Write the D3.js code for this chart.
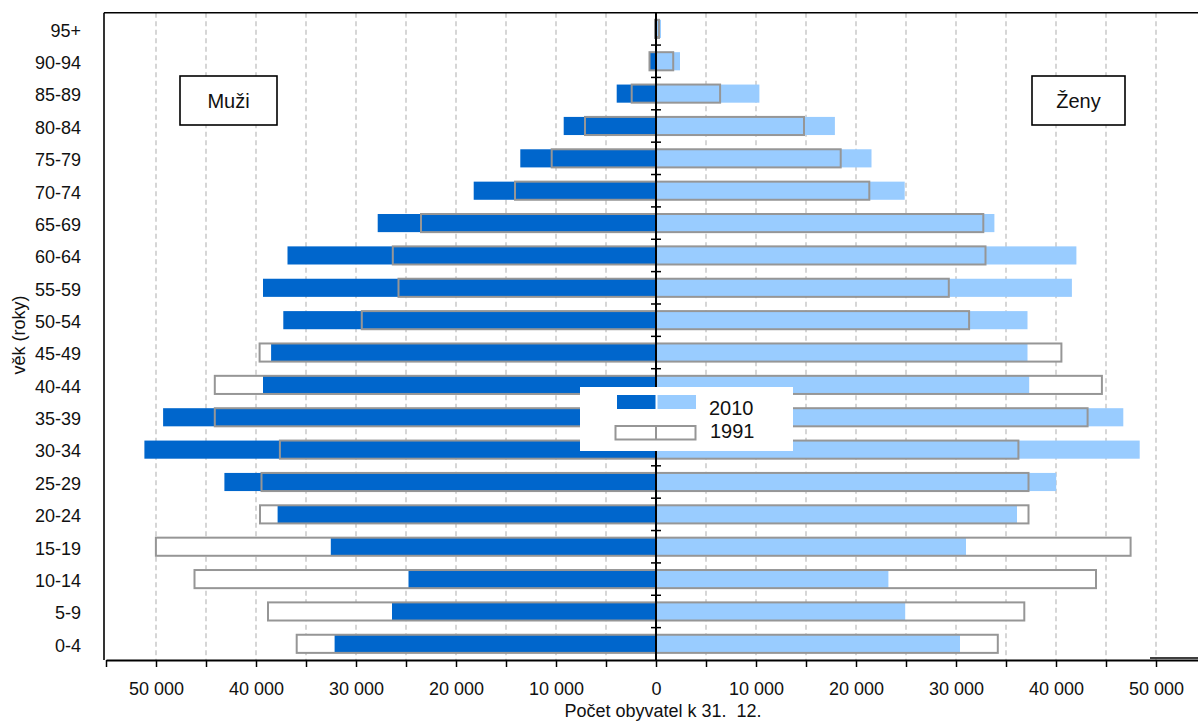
<!DOCTYPE html>
<html>
<head>
<meta charset="utf-8">
<script src="https://cdn.jsdelivr.net/npm/d3@7"></script>
<style>
  html, body { margin: 0; padding: 0; background: #fff; }
  svg { display: block; font-family: "Liberation Sans", Arial, sans-serif; }
</style>
</head>
<body>
<svg id="chart" width="1198" height="722"></svg>
<script>
// Age groups, from youngest to oldest
const ages = ["0-4","5-9","10-14","15-19","20-24","25-29","30-34","35-39","40-44","45-49",
              "50-54","55-59","60-64","65-69","70-74","75-79","80-84","85-89","90-94","95+"];
// Men (Muži)
const men2010 = [32140, 26400, 24750, 32520, 37840, 43160, 51160, 49290, 39300, 38490,
                 37270, 39300, 36850, 27830, 18230, 13570, 9230, 3930, 600, 150];
const men1991 = [35930, 38800, 46150, 50010, 39600, 39450, 37610, 44120, 44120, 39640,
                 29420, 25750, 26320, 23500, 14100, 10430, 7100, 2430, 650, 100];
// Women (Ženy)
const women2010 = [30400, 24920, 23240, 31000, 36100, 40020, 48370, 46730, 37320, 37150,
                   37150, 41590, 42040, 33840, 24870, 21550, 17890, 10340, 2400, 500];
const women1991 = [34180, 36830, 44000, 47460, 37250, 37250, 36240, 43160, 44590, 40540,
                   31310, 29280, 32950, 32730, 21330, 18470, 14800, 6410, 1720, 300];
// Axis ticks
const xTicks = d3.range(-55000, 55001, 5000);
const xLabelStep = 10000;
const gridValues = d3.range(-50000, 50001, 5000).filter(v => v !== 0);
const seriesLabels = ["2010", "1991"];
const sideLabels = ["Muži", "Ženy"];
const xTitle = "Počet obyvatel k 31.  12.";
const yTitle = "věk (roky)";

(function () {
const DARK = "#0066CC", LIGHT = "#99CCFF", OUT = "#969696", GRID = "#c0c0c0";

const svg = d3.select("#chart");
const pTop = 12.7, pBottom = 660, pLeft = 104;

const x = d3.scaleLinear().domain([-55000, 55000]).range([106, 1206]);
const y = d3.scaleBand().domain(ages.slice().reverse()).range([pTop, pBottom])
  .paddingInner(0.44).paddingOuter(0.22);
const step = y.step();

const rows = ages.map((a, i) => ({age: a, m10: men2010[i], m91: men1991[i], w10: women2010[i], w91: women1991[i]}));

// gridlines
svg.append("g").selectAll("line").data(gridValues).join("line")
  .attr("x1", d => x(d)).attr("x2", d => x(d))
  .attr("y1", pTop).attr("y2", pBottom)
  .attr("stroke", GRID).attr("stroke-width", 1.3).attr("stroke-dasharray", "5,3.5");

// 1991 white background boxes
const bg = svg.append("g");
bg.selectAll("rect.m").data(rows).join("rect").attr("class", "m")
  .attr("x", d => x(-d.m91)).attr("width", d => x(0) - x(-d.m91))
  .attr("y", d => y(d.age)).attr("height", y.bandwidth()).attr("fill", "#fff");
bg.selectAll("rect.w").data(rows).join("rect").attr("class", "w")
  .attr("x", x(0)).attr("width", d => x(d.w91) - x(0))
  .attr("y", d => y(d.age)).attr("height", y.bandwidth()).attr("fill", "#fff");

// 2010 bars
const b = svg.append("g");
b.selectAll("rect.m").data(rows).join("rect").attr("class", "m")
  .attr("x", d => x(-d.m10)).attr("width", d => x(0) - x(-d.m10))
  .attr("y", d => y(d.age)).attr("height", y.bandwidth()).attr("fill", DARK);
b.selectAll("rect.w").data(rows).join("rect").attr("class", "w")
  .attr("x", x(0)).attr("width", d => x(d.w10) - x(0))
  .attr("y", d => y(d.age)).attr("height", y.bandwidth()).attr("fill", LIGHT);

// 1991 outlines
const o = svg.append("g");
o.selectAll("rect.m").data(rows).join("rect").attr("class", "m")
  .attr("x", d => x(-d.m91)).attr("width", d => x(0) - x(-d.m91))
  .attr("y", d => y(d.age)).attr("height", y.bandwidth())
  .attr("fill", "none").attr("stroke", OUT).attr("stroke-width", 2);
o.selectAll("rect.w").data(rows).join("rect").attr("class", "w")
  .attr("x", x(0)).attr("width", d => x(d.w91) - x(0))
  .attr("y", d => y(d.age)).attr("height", y.bandwidth())
  .attr("fill", "none").attr("stroke", OUT).attr("stroke-width", 2);

// zero axis with category ticks
svg.append("line").attr("x1", x(0)).attr("x2", x(0)).attr("y1", pTop).attr("y2", pBottom)
  .attr("stroke", "#000").attr("stroke-width", 2);
svg.append("g").selectAll("line").data(d3.range(1, ages.length)).join("line")
  .attr("x1", x(0) - 5).attr("x2", x(0) + 5)
  .attr("y1", k => pTop + k * step).attr("y2", k => pTop + k * step)
  .attr("stroke", "#000").attr("stroke-width", 1.5);

// plot frame
svg.append("line").attr("x1", pLeft).attr("x2", 1198).attr("y1", pTop).attr("y2", pTop)
  .attr("stroke", "#000").attr("stroke-width", 1.6);
svg.append("line").attr("x1", pLeft).attr("x2", pLeft).attr("y1", pTop).attr("y2", pBottom)
  .attr("stroke", "#000").attr("stroke-width", 1.6);

// bottom axis
const fmt = v => (Math.abs(v) % xLabelStep === 0 && Math.abs(v) <= 50000)
  ? d3.format(",")(Math.abs(v)).replace(/,/g, " ") : "";
const ax = svg.append("g").attr("transform", `translate(0,${pBottom})`)
  .call(d3.axisBottom(x).tickValues(xTicks).tickSize(7).tickSizeOuter(0).tickPadding(15).tickFormat(fmt));
ax.select(".domain").attr("stroke", "#000").attr("stroke-width", 2);
ax.selectAll(".tick line").attr("stroke", "#000").attr("stroke-width", 1.5);
ax.selectAll(".tick text").attr("font-size", 18).attr("fill", "#111")
  .attr("font-family", "Liberation Sans, Arial, sans-serif");
// doubled axis segment at the far right, as in the source
svg.append("line").attr("x1", 1150).attr("x2", 1198).attr("y1", pBottom - 2).attr("y2", pBottom - 2)
  .attr("stroke", "#000").attr("stroke-width", 1.5);

// y category labels
svg.append("g").selectAll("text").data(ages).join("text")
  .attr("x", 81).attr("y", d => y(d) + y.bandwidth() / 2 + 1.5)
  .attr("dy", "0.35em").attr("text-anchor", "end")
  .attr("font-size", 18).attr("fill", "#111").text(d => d);

// titles
svg.append("text").attr("x", 663).attr("y", 717).attr("text-anchor", "middle")
  .attr("font-size", 18).attr("fill", "#111").style("white-space", "pre").text(xTitle);
svg.append("text").attr("transform", "translate(25,335) rotate(-90)")
  .attr("text-anchor", "middle").attr("font-size", 18).attr("fill", "#111").text(yTitle);

// side boxes
const boxes = [{t: sideLabels[0], x0: 180, x1: 277}, {t: sideLabels[1], x0: 1032, x1: 1125}];
boxes.forEach(bx => {
  svg.append("rect").attr("x", bx.x0).attr("y", 76).attr("width", bx.x1 - bx.x0).attr("height", 49)
    .attr("fill", "#fff").attr("stroke", "#000").attr("stroke-width", 1.6);
  svg.append("text").attr("x", (bx.x0 + bx.x1) / 2).attr("y", 100.5).attr("dy", "0.35em")
    .attr("text-anchor", "middle").attr("font-size", 20).attr("fill", "#111").text(bx.t);
});

// legend
const lg = svg.append("g");
lg.append("rect").attr("x", 580).attr("y", 387).attr("width", 213).attr("height", 64).attr("fill", "#fff");
lg.append("rect").attr("x", 617).attr("y", 395).attr("width", 38.5).attr("height", 14).attr("fill", DARK);
lg.append("rect").attr("x", 657.5).attr("y", 395).attr("width", 38.5).attr("height", 14).attr("fill", LIGHT);
lg.append("rect").attr("x", 615.5).attr("y", 426).attr("width", 80).attr("height", 13.5)
  .attr("fill", "#fff").attr("stroke", OUT).attr("stroke-width", 2);
lg.append("line").attr("x1", 656).attr("x2", 656).attr("y1", 426).attr("y2", 439.5)
  .attr("stroke", OUT).attr("stroke-width", 2);
lg.append("text").attr("x", 709).attr("y", 414.5).attr("font-size", 20).attr("fill", "#111").text(seriesLabels[0]);
lg.append("text").attr("x", 710).attr("y", 438).attr("font-size", 20).attr("fill", "#111").text(seriesLabels[1]);
})();
</script>
</body>
</html>
